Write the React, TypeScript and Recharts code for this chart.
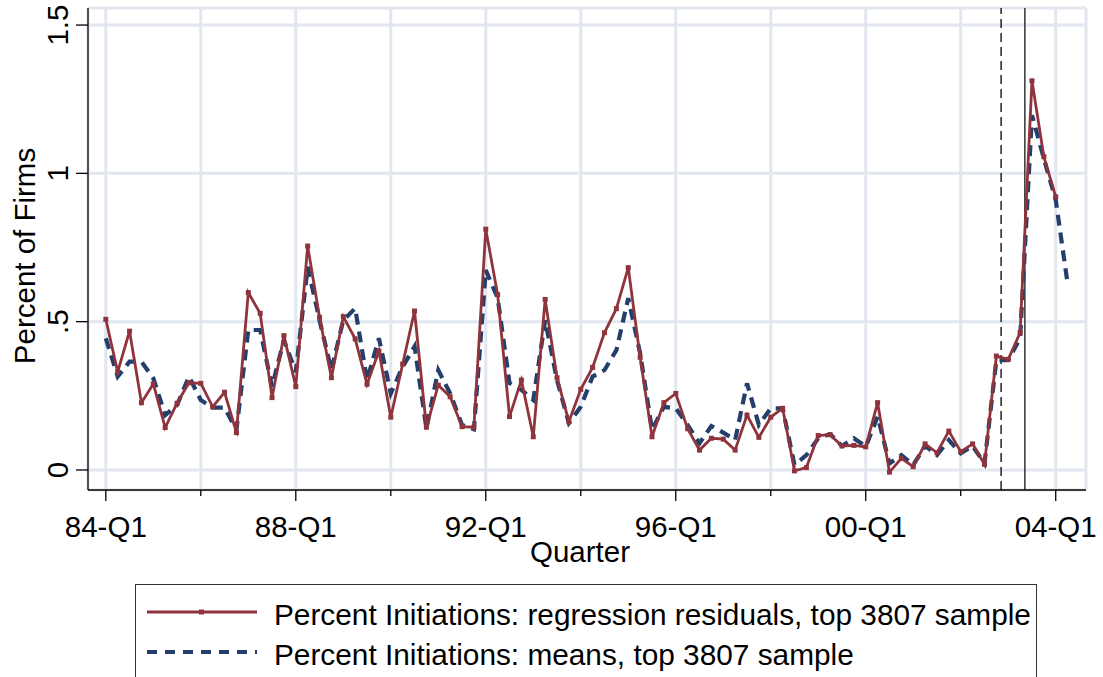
import React from 'react'
import { LineChart, Line, XAxis, YAxis, CartesianGrid, ReferenceLine, Label } from 'recharts'

// quarter index 0 = 1984 Q1
const startYear = 84
const quarterCount = 82

const residualsTop3807 = [
  0.508, 0.331, 0.468, 0.227, 0.29, 0.143, 0.225, 0.294,
  0.292, 0.213, 0.262, 0.126, 0.598, 0.528, 0.244, 0.453,
  0.281, 0.755, 0.515, 0.311, 0.517, 0.442, 0.289, 0.401,
  0.178, 0.357, 0.536, 0.144, 0.286, 0.247, 0.146, 0.144,
  0.812, 0.591, 0.18, 0.303, 0.112, 0.575, 0.311, 0.163,
  0.272, 0.346, 0.463, 0.544, 0.682, 0.38, 0.112, 0.227,
  0.258, 0.139, 0.067, 0.107, 0.104, 0.067, 0.185, 0.11,
  0.178, 0.208, -0.003, 0.008, 0.116, 0.119, 0.081, 0.083,
  0.078, 0.227, -0.007, 0.039, 0.011, 0.088, 0.058, 0.131,
  0.062, 0.088, 0.019, 0.384, 0.373, 0.463, 1.312, 1.056,
  0.921,
]

const meansTop3807 = [
  0.444, 0.315, 0.365, 0.365, 0.309, 0.185, 0.219, 0.315,
  0.236, 0.21, 0.21, 0.135, 0.472, 0.472, 0.281, 0.438,
  0.33, 0.685, 0.505, 0.337, 0.505, 0.545, 0.303, 0.444,
  0.258, 0.348, 0.416, 0.14, 0.337, 0.258, 0.152, 0.137,
  0.674, 0.58, 0.293, 0.27, 0.236, 0.505, 0.303, 0.158,
  0.213, 0.315, 0.337, 0.404, 0.579, 0.393, 0.135, 0.213,
  0.208, 0.152, 0.09, 0.148, 0.126, 0.101, 0.292, 0.152,
  0.208, 0.208, 0.017, 0.05, 0.107, 0.121, 0.081, 0.107,
  0.079, 0.18, 0.022, 0.05, 0.017, 0.081, 0.05, 0.101,
  0.056, 0.081, 0.022, 0.37, 0.37, 0.444, 1.196, 1.05,
  0.91, 0.629,
]

const xTicks = [0, 8, 16, 24, 32, 40, 48, 56, 64, 72, 80]
const xTickLabels: Record<number, string> = {
  0: '84-Q1', 16: '88-Q1', 32: '92-Q1', 48: '96-Q1', 64: '00-Q1', 80: '04-Q1',
}
const yTicks = [0, 0.5, 1, 1.5]
const yTickLabels = ['0', '.5', '1', '1.5']
const eventLines = [75.4, 77.4]

const RED = '#8f343c'
const NAVY = '#243f6b'
const GRID = '#e1e6ef'
const FONT = '"Liberation Sans", Arial, sans-serif'
const FS = 29.5

const legendItems = [
  { name: 'Percent Initiations: regression residuals, top 3807 sample', color: RED, dashed: false },
  { name: 'Percent Initiations: means, top 3807 sample', color: NAVY, dashed: true },
]

const rows = Array.from({ length: quarterCount }, (_, i) => ({
  q: i,
  label: `${String((startYear + Math.floor(i / 4)) % 100).padStart(2, '0')}-Q${(i % 4) + 1}`,
  resid: residualsTop3807[i],
  means: meansTop3807[i],
}))

const XTick = (props: any) => {
  const { x, y, payload } = props
  const text = xTickLabels[payload.value]
  return (
    <g>
      <line x1={x} x2={x} y1={y} y2={y + (text ? 11 : 6)} stroke="#000" strokeWidth={1.3} />
      {text && (
        <text x={x} y={y + 47} textAnchor="middle" fontSize={FS} fontFamily={FONT} fill="#000">
          {text}
        </text>
      )}
    </g>
  )
}

const YTick = (props: any) => {
  const { x, y, payload } = props
  const idx = yTicks.indexOf(payload.value)
  return (
    <text
      x={x}
      y={y}
      transform={`rotate(-90, ${x}, ${y})`}
      textAnchor="middle"
      fontSize={FS}
      fontFamily={FONT}
      fill="#000"
    >
      {yTickLabels[idx]}
    </text>
  )
}

const SquareDot = (props: any) => {
  const { cx, cy, value, index } = props
  if (value == null || cx == null || cy == null) return <g key={`d-${index}`} />
  return <rect key={`d-${index}`} x={cx - 2.5} y={cy - 2.5} width={5} height={5} fill={RED} />
}

const Legendbox = () => (
  <div
    style={{
      position: 'absolute',
      left: 135,
      top: 584,
      width: 902,
      height: 93,
      borderTop: '1.3px solid #333',
      borderLeft: '1.3px solid #333',
      borderRight: '1.3px solid #333',
      boxSizing: 'border-box',
      background: '#fff',
    }}
  >
    <svg width={900} height={93} style={{ position: 'absolute', left: 0, top: 0 }}>
      {legendItems.map((item, i) => {
        const ly = 27 + i * 40
        return (
          <g key={item.name}>
            <line
              x1={11}
              x2={121}
              y1={ly}
              y2={ly}
              stroke={item.color}
              strokeWidth={item.dashed ? 4 : 2.8}
              strokeDasharray={item.dashed ? '10 8' : undefined}
            />
            {!item.dashed && <rect x={63} y={ly - 2.5} width={5} height={5} fill={item.color} />}
            <text x={138} y={ly + 13} fontSize={29.8} fontFamily={FONT} fill="#000">
              {item.name}
            </text>
          </g>
        )
      })}
    </svg>
  </div>
)

export default function App() {
  return (
    <div style={{ position: 'absolute', left: 0, top: 0, width: 1103, height: 677, background: '#fff', overflow: 'hidden' }}>
      <LineChart width={1103} height={677} data={rows} margin={{ top: 8, right: 17, bottom: 0, left: 8 }}>
        <CartesianGrid stroke={GRID} strokeWidth={3} />
        <XAxis
          dataKey="q"
          type="number"
          domain={[-1.5, 82.55]}
          ticks={xTicks}
          interval={0}
          height={187}
          tickSize={0}
          tickMargin={0}
          tickLine={false}
          tick={<XTick />}
          axisLine={{ stroke: '#000', strokeWidth: 1.3 }}
        >
          <Label
            content={(p: any) => {
              const vb = p.viewBox
              return (
                <text x={vb.x + vb.width / 2 - 7} y={vb.y + 72} textAnchor="middle" fontSize={FS} fontFamily={FONT} fill="#000">
                  Quarter
                </text>
              )
            }}
          />
        </XAxis>
        <YAxis
          type="number"
          domain={[-0.0675, 1.5575]}
          ticks={yTicks}
          width={80}
          tickSize={12}
          tickMargin={8}
          tick={<YTick />}
          tickLine={{ stroke: '#000', strokeWidth: 1.3 }}
          axisLine={{ stroke: '#000', strokeWidth: 1.3 }}
        >
          <Label
            content={(p: any) => {
              const vb = p.viewBox
              const cy = vb.y + vb.height / 2 + 7
              return (
                <text x={35} y={cy} transform={`rotate(-90, 35, ${cy})`} textAnchor="middle" fontSize={FS} fontFamily={FONT} fill="#000">
                  Percent of Firms
                </text>
              )
            }}
          />
        </YAxis>
        <ReferenceLine x={eventLines[0]} stroke="#000" strokeWidth={1.3} strokeDasharray="9 5" />
        <ReferenceLine x={eventLines[1]} stroke="#333" strokeWidth={1.5} />
        <Line
          dataKey="means"
          stroke={NAVY}
          strokeWidth={4.2}
          strokeDasharray="11 7"
          dot={false}
          isAnimationActive={false}
        />
        <Line
          dataKey="resid"
          stroke={RED}
          strokeWidth={2.8}
          dot={<SquareDot />}
          activeDot={false}
          isAnimationActive={false}
        />
      </LineChart>
      <Legendbox />
    </div>
  )
}
